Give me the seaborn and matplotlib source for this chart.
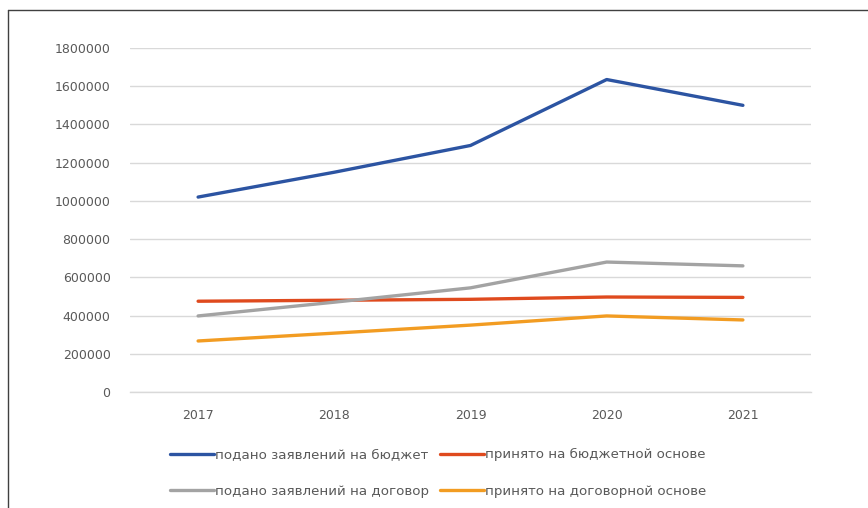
import matplotlib
matplotlib.use("Agg")
import matplotlib.pyplot as plt
import seaborn as sns
import pandas as pd
from matplotlib.lines import Line2D

years = ["2017", "2018", "2019", "2020", "2021"]
series_names = [
    "подано заявлений на бюджет",
    "принято на бюджетной основе",
    "подано заявлений на договор",
    "принято на договорной основе",
]
budget_applied = [1020000, 1150000, 1290000, 1635000, 1500000]
budget_admitted = [475000, 480000, 485000, 497000, 495000]
contract_applied = [398000, 470000, 545000, 680000, 660000]
contract_admitted = [267000, 308000, 350000, 398000, 377000]
colors = ["#2C54A2", "#DF4A1E", "#A3A3A3", "#F29C22"]

values = [budget_applied, budget_admitted, contract_applied, contract_admitted]
rows = []
for name, vals in zip(series_names, values):
    for i, (y, v) in enumerate(zip(years, vals)):
        rows.append({"idx": i, "year": y, "series": name, "value": v})
df = pd.DataFrame(rows)

sns.set_style("white")
plt.rcParams["font.family"] = ["DejaVu Sans"]

fig = plt.figure(figsize=(8.68, 5.08), dpi=100)
ax = fig.add_axes([130 / 868, 1 - 392 / 508, (811 - 130) / 868, (392 - 48) / 508])

sns.lineplot(data=df, x="idx", y="value", hue="series", hue_order=series_names,
             palette=colors, linewidth=2.4, ax=ax, legend=False, sort=False)

ax.set_xlim(-0.5, 4.5)
ax.set_ylim(0, 1800000)
ax.set_xticks(range(len(years)))
ax.set_xticklabels(years)
ax.set_yticks(range(0, 1800001, 200000))
ax.set_yticklabels([str(v) for v in range(0, 1800001, 200000)])
ax.set_xlabel("")
ax.set_ylabel("")
ax.grid(axis="y", color="#D9D9D9", linewidth=1.0)
ax.set_axisbelow(True)
for s in ["top", "right", "left"]:
    ax.spines[s].set_visible(False)
ax.spines["bottom"].set_color("#D9D9D9")
ax.spines["bottom"].set_linewidth(1.0)
ax.tick_params(axis="both", length=0, labelsize=9, colors="#595959")
ax.tick_params(axis="y", pad=14)
ax.tick_params(axis="x", pad=12)

handles = [Line2D([0], [0], color=c, linewidth=2.4) for c in colors]
order = [0, 2, 1, 3]
fig.legend([handles[i] for i in order], [series_names[i] for i in order],
           ncol=2, loc="center",
           bbox_to_anchor=(438 / 868, 1 - 473 / 508), frameon=False,
           fontsize=9.6, labelcolor="#595959", handlelength=3.3,
           handletextpad=0.1, columnspacing=0.8, labelspacing=1.75)

# figure border (left and top edges)
fig.add_artist(Line2D([8 / 868, 8 / 868], [0, 1 - 10 / 508], transform=fig.transFigure,
                      color="#404040", linewidth=1.0))
fig.add_artist(Line2D([8 / 868, 1.0], [1 - 10 / 508, 1 - 10 / 508], transform=fig.transFigure,
                      color="#404040", linewidth=1.0))

fig.savefig("out.png", dpi=100)
